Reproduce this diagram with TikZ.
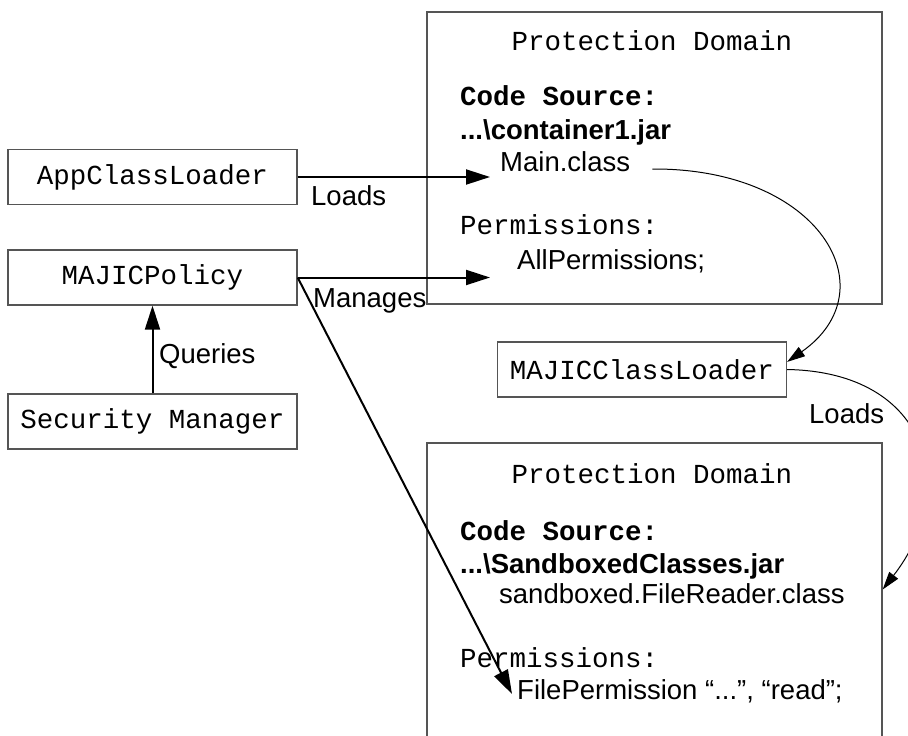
\documentclass[tikz,border=0pt]{standalone}
\usepackage{fontspec}
\setmainfont{Liberation Sans}
\setmonofont{Liberation Mono}
\usetikzlibrary{arrows.meta}
\definecolor{PDFrame}{HTML}{555555}

\begin{document}
\begin{tikzpicture}[x=1pt,y=-1pt,
  box/.style={draw=PDFrame,line width=1.3pt,inner sep=0pt},
  monotxt/.style={font=\fontsize{27.5}{33}\selectfont\ttfamily},
  sanstxt/.style={font=\fontsize{27.5}{33}\selectfont},
  txt/.style={anchor=base west,inner sep=0pt},
  loader/.style={box,monotxt,minimum width=289pt,minimum height=55pt},
  bigarrow/.style={line width=2pt,-{Triangle[length=24pt,width=15pt]}},
  thinarrow/.style={line width=1pt,-{Triangle[length=18pt,width=11pt]}}]
\path[use as bounding box] (0,0) rectangle (908,736);
% protection domains
\node[box,minimum width=455pt,minimum height=292pt] (pd1) at (654.5,158) {};
\node[box,minimum width=455pt,minimum height=320pt] (pd2) at (654.5,603) {};
\node[monotxt,anchor=base,inner sep=0pt] (pd1t) at (652,50) {Protection Domain};
\node[monotxt,txt] (cs1) at (460,105) {\textbf{Code Source:}};
\node[sanstxt,txt] (jar1) at (460,139) {\textbf{...\textbackslash container1.jar}};
\node[sanstxt,txt] (mainc) at (500,171) {Main.class};
\node[monotxt,txt] (perm1) at (460,234) {Permissions:};
\node[sanstxt,txt] (allp) at (517,269) {AllPermissions;};
\node[monotxt,anchor=base,inner sep=0pt] (pd2t) at (652,483) {Protection Domain};
\node[monotxt,txt] (cs2) at (460,540) {\textbf{Code Source:}};
\node[sanstxt,txt] (jar2) at (460,573) {\textbf{...\textbackslash SandboxedClasses.jar}};
\node[sanstxt,txt] (sbc) at (499,603) {sandboxed.FileReader.class};
\node[monotxt,txt] (perm2) at (460,667) {Permissions:};
\node[sanstxt,txt] (filep) at (517,699) {FilePermission “...”, “read”;};
% loaders and policy
\node[loader] (acl) at (152.5,177) {AppClassLoader};
\node[loader] (mpol) at (152.5,277.5) {MAJICPolicy};
\node[loader] (secm) at (152.5,421.5) {Security Manager};
\node[loader] (mcl) at (642,369.5) {MAJICClassLoader};
% labels
\node[sanstxt,txt] (lda) at (311,205) {Loads};
\node[sanstxt,txt] (mng) at (313,307) {Manages};
\node[sanstxt,txt] (qry) at (159,363) {Queries};
\node[sanstxt,txt] (ldb) at (809,423) {Loads};
\coordinate (ldtip) at (490,177);
\coordinate (mgtip) at (490,277.5);
\coordinate (fptip) at (512,694);
% connectors
\draw[bigarrow] (acl.east) -- (ldtip);
\draw[bigarrow] (mpol.east) -- (mgtip);
\draw[bigarrow] (mpol.east) -- (fptip);
\draw[bigarrow] (secm.north) -- (mpol.south);
\draw[thinarrow] ([xshift=22pt,yshift=2pt]mainc.base east) .. controls (820,168) and (890,290) .. (mcl.3);
\draw[thinarrow] (mcl.east) .. controls (930,372) and (960,490) .. ([yshift=13.5pt]pd2.east);
\end{tikzpicture}
\end{document}
